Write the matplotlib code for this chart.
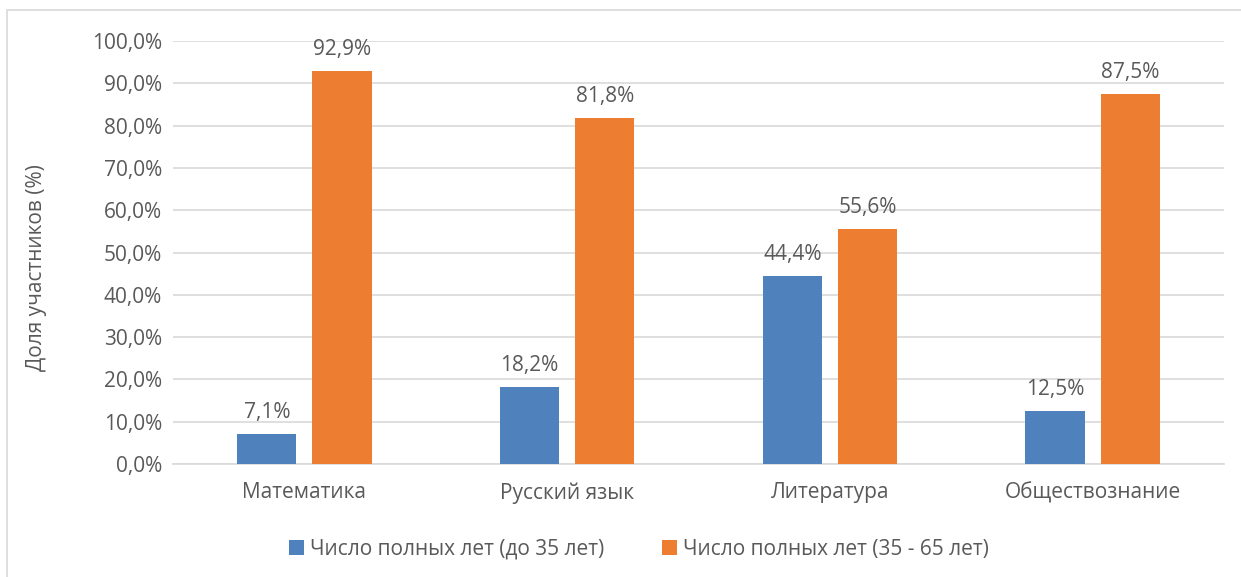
import numpy as np
from matplotlib import pyplot as plt
from matplotlib.patches import Rectangle
from matplotlib.ticker import FuncFormatter

categories = ["Математика", "Русский язык", "Литература", "Обществознание"]
young = [7.1, 18.2, 44.4, 12.5]
older = [92.9, 81.8, 55.6, 87.5]
series_names = ["Число полных лет (до 35 лет)", "Число полных лет (35 - 65 лет)"]

text_color = "#595959"
plt.rcParams['font.family'] = ['Open Sans', 'DejaVu Sans']

fig = plt.figure(figsize=(12.41, 5.77), dpi=100)
ax = fig.add_axes([0.1394, 0.1958, 0.8469, 0.7331])

# chart frame
fig.patches.append(Rectangle((7 / 1241, -0.01), 1.0, 1 - 10 / 577 + 0.01,
                             transform=fig.transFigure, fill=False,
                             edgecolor="#D9D9D9", linewidth=1.2))

x = np.arange(len(categories))
w = 0.225
b1 = ax.bar(x - 0.143, young, w, color="#4F81BD", label=series_names[0], zorder=3)
b2 = ax.bar(x + 0.143, older, w, color="#ED7D31", label=series_names[1], zorder=3)

for bars in (b1, b2):
    for rect in bars:
        h = rect.get_height()
        ax.annotate(f"{h:.1f}%".replace(".", ","),
                    (rect.get_x() + rect.get_width() / 2, h),
                    xytext=(0, 8), textcoords="offset points",
                    ha="center", va="bottom", fontsize=15, color=text_color)

ax.set_xlim(-0.5, len(categories) - 0.5)
ax.set_ylim(0, 100)
ax.set_yticks(np.arange(0, 101, 10))
ax.yaxis.set_major_formatter(FuncFormatter(lambda v, p: f"{v:.1f}%".replace(".", ",")))
ax.set_xticks(x)
ax.set_xticklabels(categories)
ax.tick_params(axis="both", length=0, labelsize=15, colors=text_color)
ax.tick_params(axis="x", pad=13)
ax.tick_params(axis="y", pad=8)
ax.grid(axis="y", color="#D9D9D9", linewidth=1.2, zorder=0)
for s in ["top", "right", "left"]:
    ax.spines[s].set_visible(False)
ax.spines["bottom"].set_color("#D9D9D9")
ax.spines["bottom"].set_linewidth(1.2)

ax.set_ylabel("Доля участников (%)", fontsize=15, color=text_color)
ax.yaxis.set_label_coords(-0.12, 0.465)

fig.legend(loc="center", bbox_to_anchor=(0.515, 0.048), ncol=2, frameon=False,
           fontsize=15, labelcolor=text_color, handlelength=0.7, handleheight=0.7,
           handletextpad=0.3, columnspacing=2.8)

fig.savefig("out.png", dpi=100)
